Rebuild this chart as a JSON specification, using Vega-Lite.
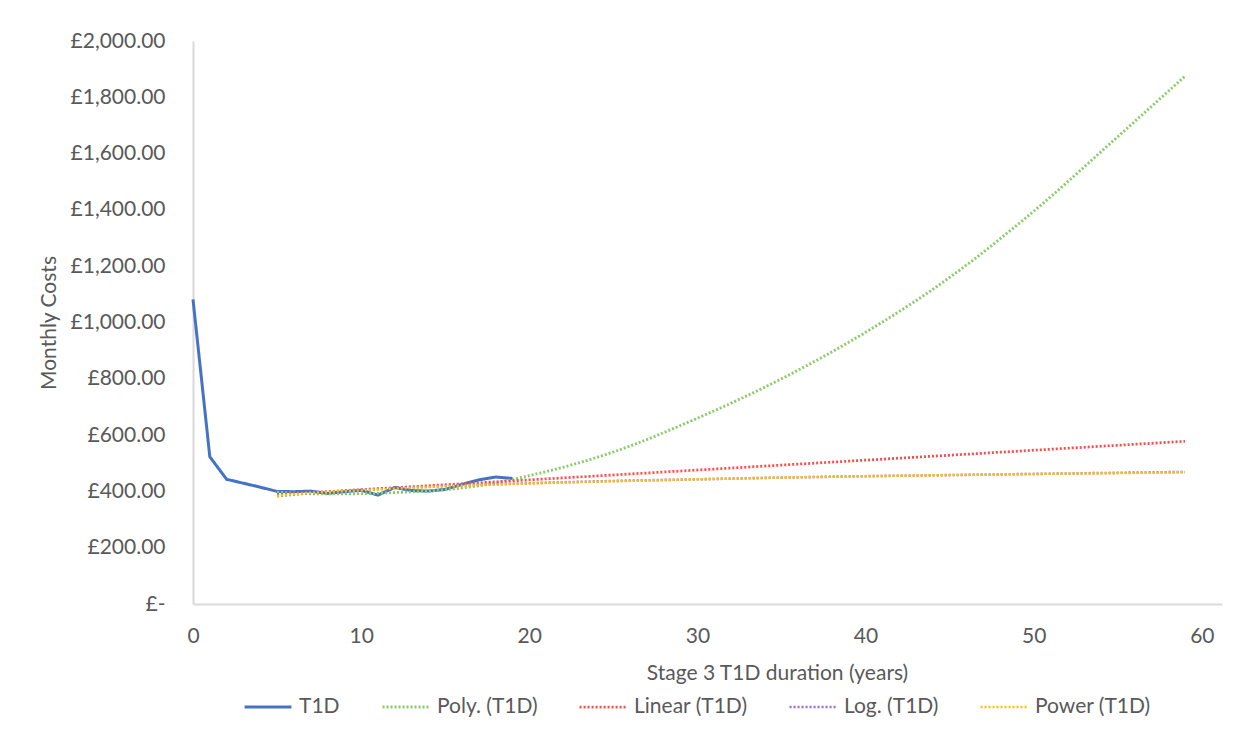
{
  "$schema": "https://vega.github.io/schema/vega-lite/v6.json",
  "width": 1029,
  "height": 563,
  "autosize": {"type": "none"},
  "padding": {"left": 193, "top": 41, "right": 38, "bottom": 143},
  "background": "white",
  "config": {
    "view": {"stroke": null},
    "font": "Lato",
    "axis": {"grid": false, "ticks": false, "domainColor": "#D9D9D9", "domainWidth": 2, "labelColor": "#595959", "titleColor": "#595959", "labelFont": "Lato", "titleFont": "Lato", "titleFontWeight": "normal"}
  },
  "data": {"values": [
    {"series": "T1D", "x": 0, "y": 1082},
    {"series": "T1D", "x": 1, "y": 523},
    {"series": "T1D", "x": 2, "y": 443},
    {"series": "T1D", "x": 3, "y": 429},
    {"series": "T1D", "x": 4, "y": 415},
    {"series": "T1D", "x": 5, "y": 400},
    {"series": "T1D", "x": 6, "y": 399},
    {"series": "T1D", "x": 7, "y": 401},
    {"series": "T1D", "x": 8, "y": 393},
    {"series": "T1D", "x": 9, "y": 399},
    {"series": "T1D", "x": 10, "y": 404},
    {"series": "T1D", "x": 11, "y": 387},
    {"series": "T1D", "x": 12, "y": 414},
    {"series": "T1D", "x": 13, "y": 403},
    {"series": "T1D", "x": 14, "y": 401},
    {"series": "T1D", "x": 15, "y": 407},
    {"series": "T1D", "x": 16, "y": 425},
    {"series": "T1D", "x": 17, "y": 441},
    {"series": "T1D", "x": 18, "y": 451},
    {"series": "T1D", "x": 19, "y": 446},
    {"series": "Poly. (T1D)", "x": 5, "y": 397},
    {"series": "Poly. (T1D)", "x": 8, "y": 391},
    {"series": "Poly. (T1D)", "x": 10, "y": 392},
    {"series": "Poly. (T1D)", "x": 12, "y": 396},
    {"series": "Poly. (T1D)", "x": 15, "y": 406},
    {"series": "Poly. (T1D)", "x": 17, "y": 420},
    {"series": "Poly. (T1D)", "x": 20, "y": 456},
    {"series": "Poly. (T1D)", "x": 25, "y": 540},
    {"series": "Poly. (T1D)", "x": 30, "y": 660},
    {"series": "Poly. (T1D)", "x": 35, "y": 800},
    {"series": "Poly. (T1D)", "x": 40, "y": 965},
    {"series": "Poly. (T1D)", "x": 45, "y": 1160},
    {"series": "Poly. (T1D)", "x": 50, "y": 1395},
    {"series": "Poly. (T1D)", "x": 55, "y": 1660},
    {"series": "Poly. (T1D)", "x": 59, "y": 1875},
    {"series": "Linear (T1D)", "x": 5, "y": 389},
    {"series": "Linear (T1D)", "x": 20, "y": 441},
    {"series": "Linear (T1D)", "x": 40, "y": 511},
    {"series": "Linear (T1D)", "x": 59, "y": 578},
    {"series": "Log. (T1D)", "x": 5, "y": 383},
    {"series": "Log. (T1D)", "x": 7, "y": 394},
    {"series": "Log. (T1D)", "x": 10, "y": 405},
    {"series": "Log. (T1D)", "x": 15, "y": 419},
    {"series": "Log. (T1D)", "x": 20, "y": 429},
    {"series": "Log. (T1D)", "x": 25, "y": 437},
    {"series": "Log. (T1D)", "x": 30, "y": 443},
    {"series": "Log. (T1D)", "x": 35, "y": 449},
    {"series": "Log. (T1D)", "x": 40, "y": 454},
    {"series": "Log. (T1D)", "x": 45, "y": 458},
    {"series": "Log. (T1D)", "x": 50, "y": 462},
    {"series": "Log. (T1D)", "x": 55, "y": 466},
    {"series": "Log. (T1D)", "x": 59, "y": 469},
    {"series": "Power (T1D)", "x": 5, "y": 384},
    {"series": "Power (T1D)", "x": 7, "y": 395},
    {"series": "Power (T1D)", "x": 10, "y": 404},
    {"series": "Power (T1D)", "x": 15, "y": 418},
    {"series": "Power (T1D)", "x": 20, "y": 428},
    {"series": "Power (T1D)", "x": 25, "y": 436},
    {"series": "Power (T1D)", "x": 30, "y": 443},
    {"series": "Power (T1D)", "x": 35, "y": 449},
    {"series": "Power (T1D)", "x": 40, "y": 454},
    {"series": "Power (T1D)", "x": 45, "y": 458},
    {"series": "Power (T1D)", "x": 50, "y": 462},
    {"series": "Power (T1D)", "x": 55, "y": 465},
    {"series": "Power (T1D)", "x": 59, "y": 468}
  ]},
  "encoding": {
    "x": {
      "field": "x", "type": "quantitative",
      "scale": {"domain": [0, 61.2], "nice": false, "zero": false},
      "axis": {"values": [0, 10, 20, 30, 40, 50, 60], "labelFlush": false, "labelFontSize": 21, "labelPadding": 21, "title": "Stage 3 T1D duration (years)", "titleFontSize": 21, "titlePadding": 16, "titleX": 584}
    },
    "y": {
      "field": "y", "type": "quantitative",
      "scale": {"domain": [0, 2000], "nice": false},
      "axis": {"values": [0, 200, 400, 600, 800, 1000, 1200, 1400, 1600, 1800, 2000], "labelExpr": "datum.value == 0 ? '£-' : '£' + format(datum.value, ',.2f')", "labelFontSize": 21, "labelPadding": 28, "title": "Monthly Costs", "titleFontSize": 21, "titlePadding": 11}
    },
    "color": {
      "field": "series", "type": "nominal",
      "scale": {"domain": ["T1D", "Poly. (T1D)", "Linear (T1D)", "Log. (T1D)", "Power (T1D)"], "range": ["#4472C4", "#8CCB6A", "#FF4A4A", "#9E6ACF", "#FFC000"]},
      "legend": {"title": null, "orient": "none", "legendX": 50, "legendY": 641, "direction": "horizontal", "symbolType": "stroke", "symbolSize": 2200, "symbolStrokeWidth": 3, "labelFontSize": 21, "labelColor": "#595959", "labelFont": "Lato", "columnPadding": 36, "labelOffset": 6}
    },
    "strokeDash": {
      "field": "series", "type": "nominal",
      "scale": {"domain": ["T1D", "Poly. (T1D)", "Linear (T1D)", "Log. (T1D)", "Power (T1D)"], "range": [[1, 0], [2, 2], [2, 2], [2, 2], [2, 2]]},
      "legend": null
    },
    "strokeWidth": {
      "field": "series", "type": "nominal",
      "scale": {"domain": ["T1D", "Poly. (T1D)", "Linear (T1D)", "Log. (T1D)", "Power (T1D)"], "range": [3, 2.5, 2.5, 2.5, 2.5]},
      "legend": null
    }
  },
  "layer": [
    {
      "transform": [{"filter": "datum.series === 'T1D'"}],
      "mark": {"type": "line", "interpolate": "linear"}
    },
    {
      "transform": [{"filter": "datum.series !== 'T1D'"}],
      "mark": {"type": "line", "interpolate": "monotone"}
    }
  ]
}
